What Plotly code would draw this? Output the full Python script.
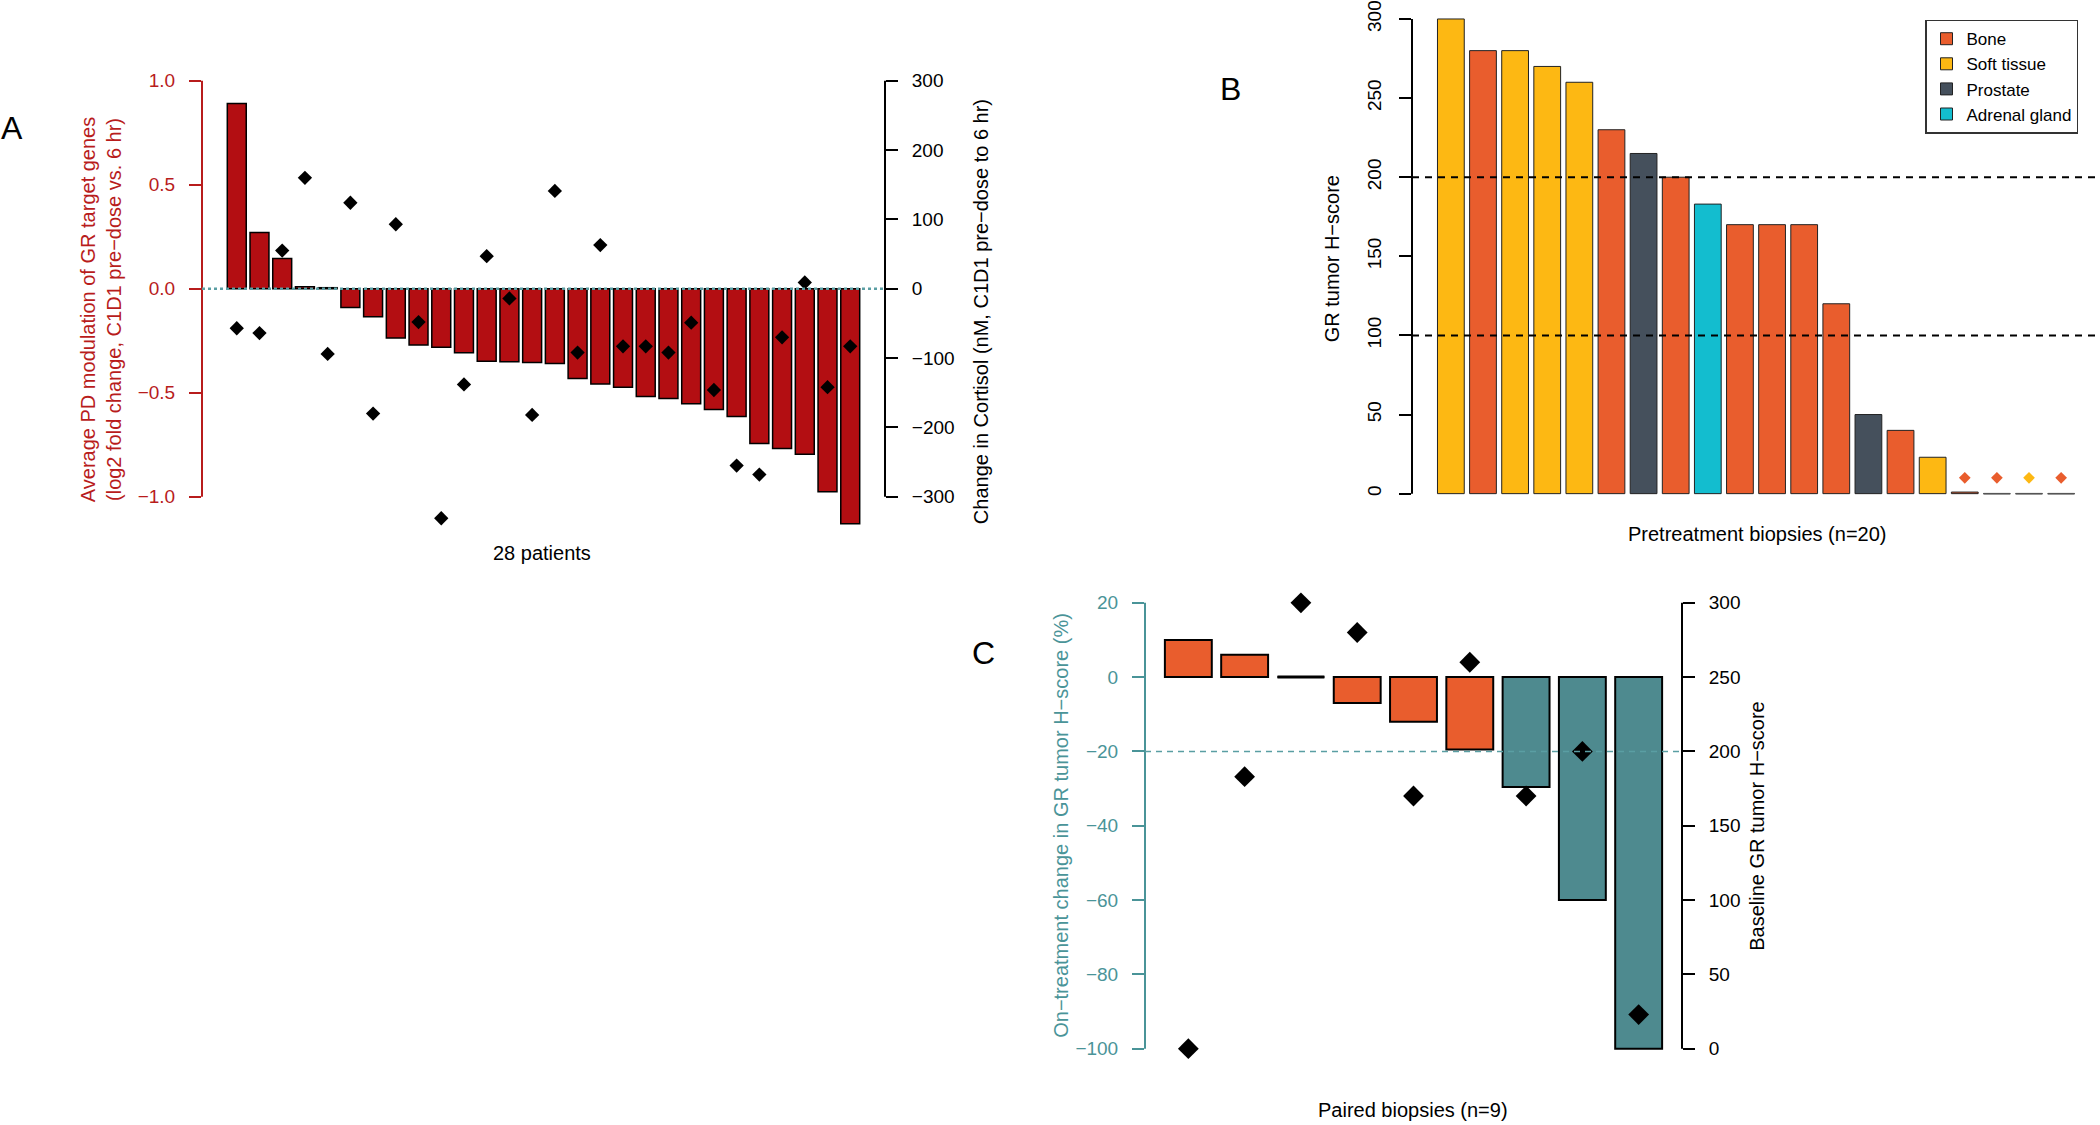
import plotly.graph_objects as go

# ---- data ----
# A: PD modulation per patient (left axis) and cortisol change (right axis)
a_pd = [0.89, 0.27, 0.145, 0.01, 0.005, -0.09, -0.135, -0.237, -0.27, -0.281,
        -0.308, -0.348, -0.351, -0.354, -0.359, -0.432, -0.458, -0.474, -0.518,
        -0.528, -0.553, -0.58, -0.614, -0.744, -0.768, -0.796, -0.976, -1.13]
a_cortisol = [-57, -64, 55, 160, -94, 124, -180, 93, -48, -331, -138, 47, -14,
              -182, 141, -92, 63, -83, -83, -92, -49, -146, -255, -268, -70, 9,
              -142, -83]

# B: baseline GR H-score of pretreatment biopsies and tissue type
b_score = [300, 280, 280, 270, 260, 230, 215, 200, 183, 170, 170, 170, 120,
           50, 40, 23, 1, 0, 0, 0]
b_tissue = ["Soft tissue", "Bone", "Soft tissue", "Soft tissue", "Soft tissue",
            "Bone", "Prostate", "Bone", "Adrenal gland", "Bone", "Bone", "Bone",
            "Bone", "Prostate", "Bone", "Soft tissue", "Bone", "Bone",
            "Soft tissue", "Bone"]
tissue_order = ["Bone", "Soft tissue", "Prostate", "Adrenal gland"]

# C: paired biopsies, on-treatment % change (bars) and baseline score (diamonds)
c_change = [10, 6, 0, -7, -12, -19.5, -29.6, -60, -100]
c_baseline = [0, 183, 300, 280, 170, 260, 170, 200, 23]

# ---- styling ----
W, H = 2100, 1125
FONT = "Liberation Sans, Arial, sans-serif"
RED_BAR = "#B30E12"
RED_TXT = "#B81C1C"
TEAL_LINE = "#5A9EA3"
TEAL_BAR = "#4E8A8F"
TEAL_TXT = "#4A9498"
tissue_colors = {"Bone": "#E95D2D", "Soft tissue": "#FDB813",
                 "Prostate": "#45505C", "Adrenal gland": "#13BDCF"}
BW = 1 / 1.2  # R barplot default: width 1, space 0.2


def px(x):
    return x / W


def py(y):
    return 1 - y / H


fig = go.Figure()

# ---------- panel A ----------
ia = list(range(len(a_pd)))
fig.add_trace(go.Bar(x=ia, y=a_pd, width=BW, marker=dict(color=RED_BAR, line=dict(color="black", width=1.5)),
                     xaxis="x", yaxis="y", showlegend=False))
fig.add_trace(go.Scatter(x=ia, y=a_cortisol, mode="markers",
                         marker=dict(symbol="diamond", size=11, color="black"),
                         xaxis="x", yaxis="y2", showlegend=False))

# ---------- panel B ----------
ib = list(range(len(b_score)))
fig.add_trace(go.Bar(x=ib, y=b_score, width=BW,
                     marker=dict(color=[tissue_colors[t] for t in b_tissue], line=dict(color="#222", width=1)),
                     xaxis="x3", yaxis="y3", showlegend=False))
zx, zy = [], []
for i, v in zip(ib, b_score):
    if v == 0:
        zx += [i - BW / 2, i + BW / 2, None]
        zy += [0, 0, None]
fig.add_trace(go.Scatter(x=zx, y=zy, mode="lines", line=dict(color="#555", width=1.5),
                         xaxis="x3", yaxis="y3", showlegend=False, hoverinfo="skip"))
zero_idx = [i for i, v in zip(ib, b_score) if v <= 1]
fig.add_trace(go.Scatter(x=zero_idx, y=[10] * len(zero_idx), mode="markers",
                         marker=dict(symbol="diamond", size=9, color=[tissue_colors[b_tissue[i]] for i in zero_idx]),
                         xaxis="x3", yaxis="y3", showlegend=False))
for t in tissue_order:
    fig.add_trace(go.Bar(x=[None], y=[None], name=t,
                         marker=dict(color=tissue_colors[t], line=dict(color="#222", width=1)),
                         xaxis="x3", yaxis="y3"))

# ---------- panel C ----------
ic = list(range(len(c_change)))
c_colors = [TEAL_BAR if v < -20 else tissue_colors["Bone"] for v in c_change]
fig.add_trace(go.Bar(x=ic, y=c_change, width=BW, marker=dict(color=c_colors, line=dict(color="black", width=2)),
                     xaxis="x4", yaxis="y4", showlegend=False))
cx, cy = [], []
for i, v in zip(ic, c_change):
    if v == 0:
        cx += [i - BW / 2, i + BW / 2, None]
        cy += [0, 0, None]
fig.add_trace(go.Scatter(x=cx, y=cy, mode="lines", line=dict(color="black", width=3),
                         xaxis="x4", yaxis="y4", showlegend=False, hoverinfo="skip"))
fig.add_trace(go.Scatter(x=ic, y=c_baseline, mode="markers",
                         marker=dict(symbol="diamond", size=16, color="black"),
                         xaxis="x4", yaxis="y5", showlegend=False))

# ---------- axes ----------
tickfont = lambda c: dict(family=FONT, size=19, color=c)
common_y = dict(showgrid=False, zeroline=False, showline=False, ticks="outside",
                ticklen=12, tickwidth=2, ticklabelstandoff=10, ticklabeloverflow="allow")

A_X = (px(202), px(885))
B_X = (px(1412), 1.0)
C_X = (px(1145), px(1682))
A_Y = (py(536.8), py(67.5))
B_Y = (py(511), 1.0)
C_Y = (py(1066.4), py(583.5))

fig.update_layout(
    width=W, height=H, margin=dict(l=0, r=0, t=0, b=0),
    paper_bgcolor="white", plot_bgcolor="rgba(0,0,0,0)",
    barmode="overlay", font=dict(family=FONT, size=19, color="black"),
    xaxis=dict(domain=A_X, range=[-1.53, 28.53], visible=False, anchor="y"),
    yaxis=dict(domain=A_Y, range=[-1.2, 1.05], anchor="x", tickvals=[-1, -0.5, 0, 0.5, 1],
               tickformat=".1f", tickcolor=RED_TXT, tickfont=tickfont(RED_TXT), **common_y),
    yaxis2=dict(overlaying="y", side="right", anchor="x", range=[-360, 315],
                tickvals=[-300, -200, -100, 0, 100, 200, 300], tickcolor="black",
                tickfont=tickfont("black"), **common_y),
    xaxis3=dict(domain=B_X, range=[-1.21, 20.21], visible=False, anchor="y3"),
    yaxis3=dict(domain=B_Y, range=[-12, 310.1], anchor="x3", tickvals=[0, 50, 100, 150, 200, 250, 300],
                tickangle=-90, tickcolor="black", tickfont=tickfont("black"), **common_y),
    xaxis4=dict(domain=C_X, range=[-0.77, 8.77], visible=False, anchor="y4"),
    yaxis4=dict(domain=C_Y, range=[-104.8, 24.8], anchor="x4", tickvals=[-100, -80, -60, -40, -20, 0, 20],
                tickcolor=TEAL_TXT, tickfont=tickfont(TEAL_TXT), **common_y),
    yaxis5=dict(overlaying="y4", side="right", anchor="x4", range=[-12, 312],
                tickvals=[0, 50, 100, 150, 200, 250, 300], tickcolor="black",
                tickfont=tickfont("black"), **common_y),
    legend=dict(x=px(1925), y=py(16.7), xanchor="left", yanchor="top",
                bordercolor="#333", borderwidth=1.5, bgcolor="white",
                font=dict(family=FONT, size=17, color="black"), tracegroupgap=0),
)

# axis lines spanning first..last tick, as in base R
def vline(x, yref, y0, y1, color, width=2, dash=None):
    return dict(type="line", xref="paper", x0=x, x1=x, yref=yref, y0=y0, y1=y1,
                line=dict(color=color, width=width, dash=dash))


def hline(yref, y, x0, x1, color, width=2, dash=None):
    return dict(type="line", xref="paper", x0=x0, x1=x1, yref=yref, y0=y, y1=y,
                line=dict(color=color, width=width, dash=dash))


shapes = [
    vline(A_X[0], "y", -1, 1, RED_TXT),
    vline(A_X[1], "y2", -300, 300, "black"),
    hline("y", 0, A_X[0], A_X[1], TEAL_LINE, 2.5, "dot"),
    vline(B_X[0], "y3", 0, 300, "black"),
    hline("y3", 200, B_X[0], B_X[1], "black", 2, "7px,6px"),
    hline("y3", 100, B_X[0], B_X[1], "black", 2, "7px,6px"),
    vline(C_X[0], "y4", -100, 20, TEAL_TXT),
    vline(C_X[1], "y5", 0, 300, "black"),
    hline("y4", -20, C_X[0], C_X[1], TEAL_LINE, 1.5, "6px,5px"),
]
fig.update_layout(shapes=shapes)


def note(text, x, y, size=20, color="black", angle=0):
    return dict(text=text, x=px(x), y=py(y), xref="paper", yref="paper", showarrow=False,
                textangle=angle, xanchor="center", yanchor="middle",
                font=dict(family=FONT, size=size, color=color))


annotations = [
    note("A", 12, 125, 32),
    note("B", 1230, 86, 32),
    note("C", 983, 652, 32),
    note("Average PD modulation of GR target genes<br>(log2 fold change, C1D1 pre\u2212dose vs. 6 hr)",
         101, 308, 20, RED_TXT, -90),
    note("Change in Cortisol (nM, C1D1 pre\u2212dose to 6 hr)", 981, 310, 20, "black", -90),
    note("28 patients", 542, 551, 20),
    note("GR tumor H\u2212score", 1332, 256, 20, "black", -90),
    note("Pretreatment biopsies (n=20)", 1757, 532, 20),
    note("On\u2212treatment change in GR tumor H\u2212score (%)", 1061, 825, 20, TEAL_TXT, -90),
    note("Baseline GR tumor H\u2212score", 1757, 825, 20, "black", -90),
    note("Paired biopsies (n=9)", 1413, 1110, 20),
]
fig.update_layout(annotations=annotations)

# the page body has a default 8px margin; drop it so the figure fills the window
fig.write_html("out.html", config={"displayModeBar": False},
               post_script="document.body.style.margin='0';")
